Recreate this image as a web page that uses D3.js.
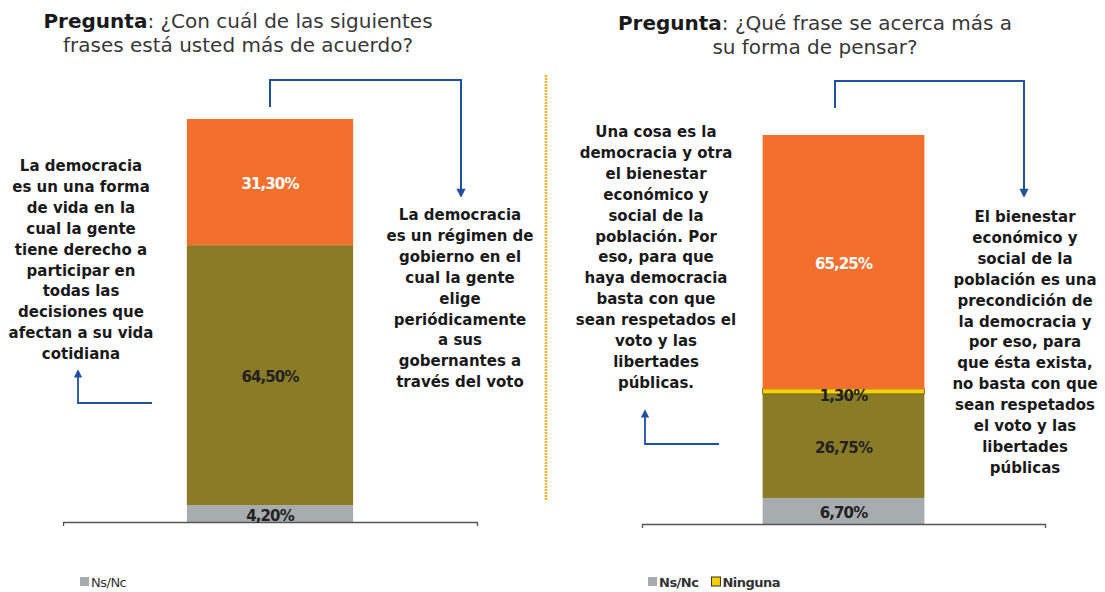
<!DOCTYPE html>
<html>
<head>
<meta charset="utf-8">
<script src="https://cdn.jsdelivr.net/npm/d3@7"></script>
<style>
  body { margin: 0; background: #fff; }
  svg { display: block; font-family: "DejaVu Sans", sans-serif; }
</style>
</head>
<body>
<div id="chart"></div>
<script>
// left panel: "¿Con cuál de las siguientes frases está usted más de acuerdo?"
const leftSeries = ["Ns/Nc", "Régimen de gobierno", "Forma de vida"];
const leftValues = [4.2, 64.5, 31.3];
// right panel: "¿Qué frase se acerca más a su forma de pensar?"
const rightSeries = ["Ns/Nc", "Precondición", "Ninguna", "Una cosa y otra"];
const rightValues = [6.7, 26.75, 1.3, 65.25];

const colors = {
    "Ns/Nc": "#a7adaf",
    "Régimen de gobierno": "#8a7b26",
    "Precondición": "#8a7b26",
    "Ninguna": "#f7d000",
    "Forma de vida": "#f26f2d",
    "Una cosa y otra": "#f26f2d"
};

const leftNoteA = ["La democracia", "es un una forma", "de vida en la", "cual la gente", "tiene derecho a",
    "participar en", "todas las", "decisiones que", "afectan a su vida", "cotidiana"];
const leftNoteB = ["La democracia", "es un régimen de", "gobierno en el", "cual la gente", "elige",
    "periódicamente", "a sus", "gobernantes a", "través del voto"];
const rightNoteA = ["Una cosa es la", "democracia y otra", "el bienestar", "económico y", "social de la",
    "población. Por", "eso, para que", "haya democracia", "basta con que", "sean respetados el",
    "voto y las", "libertades", "públicas."];
const rightNoteB = ["El bienestar", "económico y", "social de la", "población es una", "precondición de",
    "la democracia y", "por eso, para", "que ésta exista,", "no basta con que", "sean respetados",
    "el voto y las", "libertades", "públicas"];

const W = 1105, H = 592;
const blue = "#2050a0";
const locale = d3.formatLocale({ decimal: ",", thousands: ".", grouping: [3], currency: ["", "€"] });
const pct = v => locale.format(".2f")(v) + "%";

const svg = d3.select("#chart").append("svg").attr("width", W).attr("height", H);

const defs = svg.append("defs");
defs.append("marker")
    .attr("id", "head")
    .attr("viewBox", "0 0 10 10")
    .attr("refX", 8).attr("refY", 5)
    .attr("markerWidth", 5.2).attr("markerHeight", 4.6)
    .attr("orient", "auto")
    .append("path").attr("d", "M0,0L10,5L0,10Z").attr("fill", blue);

// titles
function title(cx, y1, rest1, line2) {
    const t = svg.append("text").attr("x", cx).attr("y", y1)
        .attr("text-anchor", "middle").style("font-size", "20px").attr("fill", "#383838");
    t.append("tspan").style("font-weight", "bold").attr("fill", "#1a1a1a").text("Pregunta");
    t.append("tspan").text(rest1);
    svg.append("text").attr("x", cx).attr("y", y1 + 24)
        .attr("text-anchor", "middle").style("font-size", "20px").attr("fill", "#383838")
        .text(line2);
}
title(238, 28, ": ¿Con cuál de las siguientes", "frases está usted más de acuerdo?");
title(815, 30, ": ¿Qué frase se acerca más a", "su forma de pensar?");

// divider
svg.append("line")
    .attr("x1", 546).attr("x2", 546).attr("y1", 75).attr("y2", 500)
    .attr("stroke", "#f4b323").attr("stroke-width", 2.5).attr("stroke-dasharray", "2,1");

function panel(cfg) {
    const x = d3.scaleBand().domain(["total"]).range([cfg.x0, cfg.x1]).paddingInner(0.427).paddingOuter(0.427);
    const y = d3.scaleLinear().domain([0, 100]).range([cfg.base, cfg.top]);

    const stacked = [];
    let acc = 0;
    cfg.series.forEach((s, i) => {
        stacked.push({ key: s, v0: acc, v1: acc + cfg.values[i], value: cfg.values[i] });
        acc += cfg.values[i];
    });

    const g = svg.append("g");

    g.selectAll("rect")
        .data(stacked)
        .enter()
        .append("rect")
        .attr("x", x("total"))
        .attr("width", x.bandwidth())
        .attr("y", d => y(d.v1))
        .attr("height", d => y(d.v0) - y(d.v1))
        .attr("fill", d => colors[d.key])
        .attr("stroke", d => d.key === "Ninguna" ? "#6b5a10" : "none")
        .attr("stroke-width", 0.8);

    g.append("g")
        .attr("transform", "translate(0," + cfg.base + ")")
        .call(d3.axisBottom(x).tickSizeInner(0).tickSizeOuter(4).tickFormat(""))
        .call(a => a.select(".domain").attr("stroke", "#555").attr("stroke-width", 1.3));

    const cx = x("total") + x.bandwidth() / 2;
    g.selectAll("text.val")
        .data(stacked)
        .enter()
        .append("text")
        .attr("class", "val")
        .attr("x", cx)
        .attr("y", d => d.key === "Ninguna" ? y(d.v0) + 2 : (y(d.v0) + y(d.v1)) / 2 + 2)
        .attr("text-anchor", "middle")
        .attr("dominant-baseline", "central")
        .style("font-size", "15px")
        .style("font-weight", "bold")
        .style("letter-spacing", "-0.9px")
        .attr("fill", d => colors[d.key] === "#f26f2d" ? "#fff" : "#222")
        .text(d => pct(d.value));

    // notes
    function note(lines, nx, ny) {
        g.append("g").selectAll("text")
            .data(lines)
            .enter()
            .append("text")
            .attr("x", nx)
            .attr("y", (d, i) => ny + i * 20.9)
            .attr("text-anchor", "middle")
            .attr("dominant-baseline", "central")
            .style("font-size", "15px")
            .style("font-weight", "bold")
            .attr("fill", "#1a1a1a")
            .text(d => d);
    }
    note(cfg.noteA, cfg.noteAx, cfg.noteAy);
    note(cfg.noteB, cfg.noteBx, cfg.noteBy);

    // bracket arrow from top of bar to right note
    g.append("path")
        .attr("d", "M" + cfg.brX0 + "," + cfg.brY0 + "V" + cfg.brTop + "H" + cfg.brX1 + "V" + cfg.brY1)
        .attr("fill", "none").attr("stroke", blue).attr("stroke-width", 2)
        .attr("marker-end", "url(#head)");

    // small elbow arrow under the left note
    g.append("path")
        .attr("d", "M" + cfg.elX1 + "," + cfg.elY + "H" + cfg.elX0 + "V" + cfg.elTip)
        .attr("fill", "none").attr("stroke", blue).attr("stroke-width", 1.8)
        .attr("marker-end", "url(#head)");

    // legend
    const lg = g.append("g").attr("transform", "translate(" + cfg.legX + "," + 582 + ")");
    let lx = 0;
    cfg.legend.forEach(k => {
        lg.append("rect").attr("x", lx).attr("y", -5).attr("width", 9).attr("height", 9)
            .attr("fill", colors[k])
            .attr("stroke", k === "Ninguna" ? "#333" : "none").attr("stroke-width", 1);
        const t = lg.append("text").attr("x", lx + 11).attr("y", 0)
            .attr("dominant-baseline", "central")
            .style("font-size", "13px")
            .style("font-weight", cfg.legendBold ? "bold" : "normal")
            .style("letter-spacing", "-0.5px")
            .attr("fill", "#333")
            .text(k);
        lx += 11 + t.node().getComputedTextLength() + 13;
    });
}

panel({
    series: leftSeries, values: leftValues,
    x0: 63, x1: 477, base: 522, top: 119,
    noteA: leftNoteA, noteAx: 81, noteAy: 166,
    noteB: leftNoteB, noteBx: 460, noteBy: 215,
    brX0: 270, brY0: 107, brTop: 80, brX1: 461, brY1: 196,
    elX0: 78, elX1: 152, elY: 403, elTip: 371,
    legX: 80, legend: ["Ns/Nc"], legendBold: false
});

panel({
    series: rightSeries, values: rightValues,
    x0: 642, x1: 1045, base: 524, top: 135,
    noteA: rightNoteA, noteAx: 656, noteAy: 132,
    noteB: rightNoteB, noteBx: 1025, noteBy: 217,
    brX0: 835, brY0: 108, brTop: 81, brX1: 1024, brY1: 196,
    elX0: 645, elX1: 719, elY: 444, elTip: 411,
    legX: 648, legend: ["Ns/Nc", "Ninguna"], legendBold: true
});
</script>
</body>
</html>
